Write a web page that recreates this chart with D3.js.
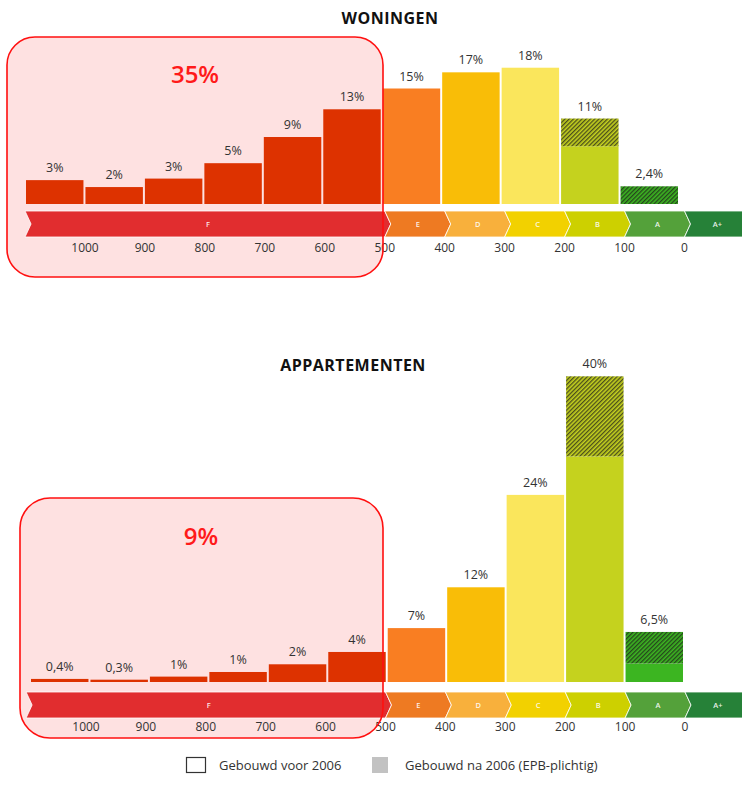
<!DOCTYPE html>
<html><head><meta charset="utf-8">
<script src="https://cdn.jsdelivr.net/npm/d3@7/dist/d3.min.js"></script>
<style>body{margin:0;background:#fff}svg{display:block}text{font-family:"Open Sans",sans-serif}</style>
</head><body>
<script>
// ---- data ----
const binEdges = [1100,1000,900,800,700,600,500,400,300,200,100,0];
const binClass = ["F","F","F","F","F","F","E","D","C","B","A"];
const tickValues = [1000,900,800,700,600,500,400,300,200,100,0];
const bands = ["F","E","D","C","B","A","A+"];
const bandEdges = [1100,500,400,300,200,100,0,-100];

const woningenVoor = [3.1,2.2,3.3,5.3,8.7,12.3,15,17.1,17.7,7.5,0];
const woningenNa   = [0,0,0,0,0,0,0,0,0,3.6,2.3];
const woningenLabels = ["3%","2%","3%","5%","9%","13%","15%","17%","18%","11%","2,4%"];
const woningenF = "35%";

const appVoor = [0.4,0.3,0.7,1.3,2.3,3.9,7,12.3,24.3,29.3,2.4];
const appNa   = [0,0,0,0,0,0,0,0,0,10.4,4.1];
const appLabels = ["0,4%","0,3%","1%","1%","2%","4%","7%","12%","24%","40%","6,5%"];
const appF = "9%";

const legendItems = ["Gebouwd voor 2006","Gebouwd na 2006 (EPB-plichtig)"];

// ---- styles ----
const barColor = {F:"#dd3200",E:"#f97e22",D:"#f9bd07",C:"#fae65c",B:"#c5d21e",A:"#3cb521"};
const bandColor = {F:"#e12d2f",E:"#ee7a22",D:"#f8b03c",C:"#f2d100",B:"#cdd000",A:"#54a13a","A+":"#268138"};

const W=742,H=787;
const svg=d3.select("body").append("svg").attr("width",W).attr("height",H);
const defs=svg.append("defs");
["B","A"].forEach(k=>{
  const p=defs.append("pattern").attr("id","hatch"+k).attr("patternUnits","userSpaceOnUse")
    .attr("width",3).attr("height",3).attr("patternTransform","rotate(45)");
  p.append("rect").attr("width",3).attr("height",3).attr("fill",barColor[k]);
  p.append("line").attr("x1",0.7).attr("y1",0).attr("x2",0.7).attr("y2",3)
    .attr("stroke","#1c1c1c").attr("stroke-width",1.2).attr("stroke-opacity",0.8);
});

function panel(cfg){
  const g=svg.append("g");
  g.append("rect").attr("x",cfg.box[0]).attr("y",cfg.box[1]).attr("width",cfg.box[2]-cfg.box[0])
    .attr("height",cfg.box[3]-cfg.box[1]).attr("rx",cfg.rx).attr("fill","#fee1e1");
  g.append("text").attr("x",W/2+cfg.titleDx).attr("y",cfg.titleY).attr("text-anchor","middle")
    .attr("font-size",16).attr("font-weight",700).attr("letter-spacing",0.5).attr("fill","#111").text(cfg.title);

  const xb=d3.scaleLinear().domain([1100,0]).range(cfg.barRange);
  const xr=d3.scaleLinear().domain([1000,0]).range(cfg.ribbonRange);
  const y=d3.scaleLinear().domain([0,10]).range([cfg.base,cfg.base-77]);

  const idx=d3.range(binClass.length);
  const bw=i=>xb(binEdges[i+1])-xb(binEdges[i])-2;
  g.selectAll(".bar").data(idx).join("rect")
    .attr("x",i=>xb(binEdges[i])).attr("width",bw)
    .attr("y",i=>y(cfg.voor[i])).attr("height",i=>y(0)-y(cfg.voor[i]))
    .attr("fill",i=>barColor[binClass[i]]);
  g.selectAll(".hat").data(idx.filter(i=>cfg.na[i]>0)).join("rect")
    .attr("x",i=>xb(binEdges[i])).attr("width",bw)
    .attr("y",i=>y(cfg.voor[i]+cfg.na[i])).attr("height",i=>y(cfg.voor[i])-y(cfg.voor[i]+cfg.na[i]))
    .attr("fill",i=>"url(#hatch"+binClass[i]+")");
  g.selectAll(".lab").data(idx).join("text")
    .attr("x",i=>xb(binEdges[i])+bw(i)/2).attr("y",i=>y(cfg.voor[i]+cfg.na[i])-8)
    .attr("text-anchor","middle").attr("font-size",12.5).attr("fill","#333").text(i=>cfg.labels[i]);

  const t=cfg.ribTop,b=cfg.ribTop+26,m=(t+b)/2,d=6;
  bands.forEach((k,j)=>{
    const x0=xr(bandEdges[j]),x1=xr(bandEdges[j+1]);
    const pts=[[x0,t],[x1,t],[x1+d,m],[x1,b],[x0,b],[x0+d,m]];
    g.append("path").attr("d","M"+pts.map(p=>p.join(",")).join("L")+"Z")
      .attr("fill",bandColor[k]).attr("stroke","#fff").attr("stroke-width",0.8);
    g.append("text").attr("x",(x0+x1)/2+d/2).attr("y",m+3).attr("text-anchor","middle")
      .attr("font-size",7.5).attr("font-weight",600).attr("fill","#fff").attr("fill-opacity",0.9).text(k);
  });
  g.selectAll(".tick").data(tickValues).join("text")
    .attr("x",v=>xr(v)).attr("y",cfg.tickY).attr("text-anchor","middle")
    .attr("font-size",12).attr("fill","#333").text(v=>v);

  g.append("rect").attr("x",cfg.box[0]).attr("y",cfg.box[1]).attr("width",cfg.box[2]-cfg.box[0])
    .attr("height",cfg.box[3]-cfg.box[1]).attr("rx",cfg.rx).attr("fill","none")
    .attr("stroke","#ff1010").attr("stroke-width",1.6);
  g.append("text").attr("x",cfg.bigX).attr("y",cfg.bigY).attr("text-anchor","middle")
    .attr("font-size",24).attr("font-weight",600).attr("fill","#ff1a1a").text(cfg.big);
}

panel({title:"WONINGEN",titleDx:19,titleY:24,voor:woningenVoor,na:woningenNa,labels:woningenLabels,
  big:woningenF,bigX:195,bigY:83,box:[7,37,383,277],rx:28,
  barRange:[26,680],ribbonRange:[85,684.5],base:204,ribTop:211,tickY:252});
panel({title:"APPARTEMENTEN",titleDx:-18,titleY:371,voor:appVoor,na:appNa,labels:appLabels,
  big:appF,bigX:201,bigY:545,box:[20,498,383,738],rx:30,
  barRange:[31,685],ribbonRange:[86,685],base:682,ribTop:692,tickY:731});

const lg=svg.append("g");
lg.append("rect").attr("x",186.5).attr("y",757.5).attr("width",19).attr("height",15)
  .attr("fill","#fff").attr("stroke","#333").attr("stroke-width",1.2);
lg.append("text").attr("x",219).attr("y",770).attr("font-size",13).attr("fill","#333").text(legendItems[0]);
lg.append("rect").attr("x",372).attr("y",757).attr("width",16).attr("height",16).attr("fill","#c2c2c2");
lg.append("text").attr("x",405).attr("y",770).attr("font-size",13).attr("fill","#333").text(legendItems[1]);
</script>
</body></html>
